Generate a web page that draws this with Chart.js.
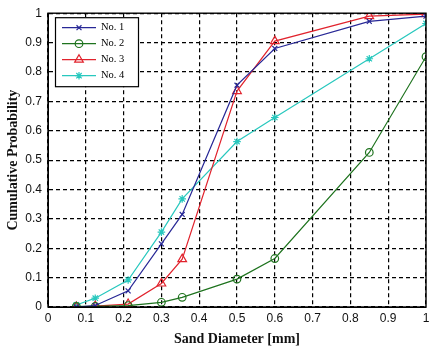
<!DOCTYPE html>
<html>
<head>
<meta charset="utf-8">
<script src="https://cdn.jsdelivr.net/npm/chart.js@4/dist/chart.umd.min.js"></script>
<style>
  html, body { margin: 0; padding: 0; background: #ffffff; }
  #wrap { width: 447px; height: 356px; }
</style>
</head>
<body>
<div id="wrap"><canvas id="c" width="447" height="356"></canvas></div>
<script>
// ---- data ----
const sandDiameter = [0.075, 0.125, 0.212, 0.3, 0.355, 0.5, 0.6, 0.85, 1.0];
const no1 = [0.000, 0.005, 0.055, 0.215, 0.315, 0.755, 0.880, 0.972, 0.990];
const no2 = [0.002, 0.002, 0.005, 0.016, 0.033, 0.095, 0.165, 0.526, 0.852];
const no3 = [0.000, 0.003, 0.010, 0.080, 0.163, 0.735, 0.905, 0.990, 0.997];
const no4 = [0.007, 0.030, 0.092, 0.255, 0.368, 0.563, 0.645, 0.845, 0.965];
const seriesNames = ['No. 1', 'No. 2', 'No. 3', 'No. 4'];
const xTickValues = [0, 0.1, 0.2, 0.3, 0.4, 0.5, 0.6, 0.7, 0.8, 0.9, 1];
const yTickValues = [0, 0.1, 0.2, 0.3, 0.4, 0.5, 0.6, 0.7, 0.8, 0.9, 1];
const xTitle = 'Sand Diameter [mm]';
const yTitle = 'Cumulative Probability';

const styles = [
  { color: 'rgb(40,40,150)', point: 'crossRot', radius: 3.5 },
  { color: 'rgb(30,115,30)', point: 'circle', radius: 3.8 },
  { color: 'rgb(225,35,45)', point: 'triangle', radius: 5 },
  { color: 'rgb(40,200,190)', point: 'star', radius: 3.8 }
];
const allSeries = [no1, no2, no3, no4];

const datasets = allSeries.map((vals, i) => ({
  label: seriesNames[i],
  data: sandDiameter.map((x, k) => ({ x: x, y: vals[k] })),
  borderColor: styles[i].color,
  backgroundColor: 'rgba(0,0,0,0)',
  pointBorderColor: styles[i].color,
  pointBackgroundColor: 'rgba(0,0,0,0)',
  pointStyle: styles[i].point,
  pointRadius: styles[i].radius,
  pointBorderWidth: 1.2,
  borderWidth: 1.2,
  tension: 0,
  showLine: true
}));

function fmt(v) {
  const r = Math.round(v * 10) / 10;
  return r === 0 ? '0' : (r === 1 ? '1' : r.toFixed(1));
}

const framePlugin = {
  id: 'frameAndLegend',
  afterDraw(chart) {
    const ctx = chart.ctx;
    const a = chart.chartArea;
    ctx.save();
    ctx.strokeStyle = '#000';
    ctx.lineWidth = 1.4;
    ctx.setLineDash([]);
    ctx.strokeRect(a.left, a.top, a.right - a.left, a.bottom - a.top);

    const bx = a.left + 7, by = a.top + 4, bw = 83, bh = 69;
    ctx.fillStyle = '#fff';
    ctx.fillRect(bx, by, bw, bh);
    ctx.lineWidth = 1.2;
    ctx.strokeRect(bx + 0.5, by + 0.5, bw, bh);
    ctx.font = '10.5px "Liberation Serif", "DejaVu Serif", serif';
    ctx.textBaseline = 'middle';
    ctx.textAlign = 'left';
    seriesNames.forEach((name, i) => {
      const y = by + 10.5 + i * 16;
      const x0 = bx + 7, x1 = bx + 41, xm = (x0 + x1) / 2;
      ctx.strokeStyle = styles[i].color;
      ctx.lineWidth = 1.2;
      ctx.beginPath(); ctx.moveTo(x0, y); ctx.lineTo(x1, y); ctx.stroke();
      if (Chart.helpers && Chart.helpers.drawPoint) {
        ctx.strokeStyle = styles[i].color;
        ctx.fillStyle = 'rgba(0,0,0,0)';
        Chart.helpers.drawPoint(ctx, { pointStyle: styles[i].point, radius: styles[i].radius, rotation: 0, borderWidth: 1.2 }, xm, y);
      }
      ctx.fillStyle = '#000';
      ctx.fillText(name, bx + 46, y);
    });
    ctx.restore();
  }
};

new Chart(document.getElementById('c'), {
  type: 'scatter',
  data: { datasets: datasets },
  options: {
    responsive: false,
    devicePixelRatio: 1,
    animation: false,
    layout: { padding: { left: 0, right: 21, top: 12, bottom: 0 } },
    plugins: { legend: { display: false }, tooltip: { enabled: false } },
    scales: {
      x: {
        type: 'linear', min: 0, max: 1,
        afterBuildTicks: (s) => { s.ticks = xTickValues.map(v => ({ value: v })); },
        afterFit: (s) => { s.height = 49; },
        ticks: { callback: (v) => fmt(v), color: '#111', padding: 4, maxRotation: 0,
                 font: { family: '"Liberation Sans", Arial, sans-serif', size: 12 } },
        grid: { color: '#000', lineWidth: 1.2, drawTicks: false },
        border: { display: true, color: '#000', width: 1, dash: [4, 3] },
        title: { display: true, text: xTitle, color: '#111', padding: { top: 0, bottom: 8 },
                 font: { family: '"Liberation Serif", "Times New Roman", serif', size: 14, weight: 'bold' } }
      },
      y: {
        type: 'linear', min: 0, max: 1,
        afterBuildTicks: (s) => { s.ticks = yTickValues.map(v => ({ value: v })); },
        afterFit: (s) => { s.width = 48; },
        ticks: { callback: (v) => fmt(v), color: '#111', padding: 6,
                 font: { family: '"Liberation Sans", Arial, sans-serif', size: 12 } },
        grid: { color: '#000', lineWidth: 1.2, drawTicks: false },
        border: { display: true, color: '#000', width: 1, dash: [4, 3] },
        title: { display: true, text: yTitle, color: '#111', padding: { top: 5, bottom: 0 },
                 font: { family: '"Liberation Serif", "Times New Roman", serif', size: 14, weight: 'bold' } }
      }
    }
  },
  plugins: [framePlugin]
});
</script>
</body>
</html>
